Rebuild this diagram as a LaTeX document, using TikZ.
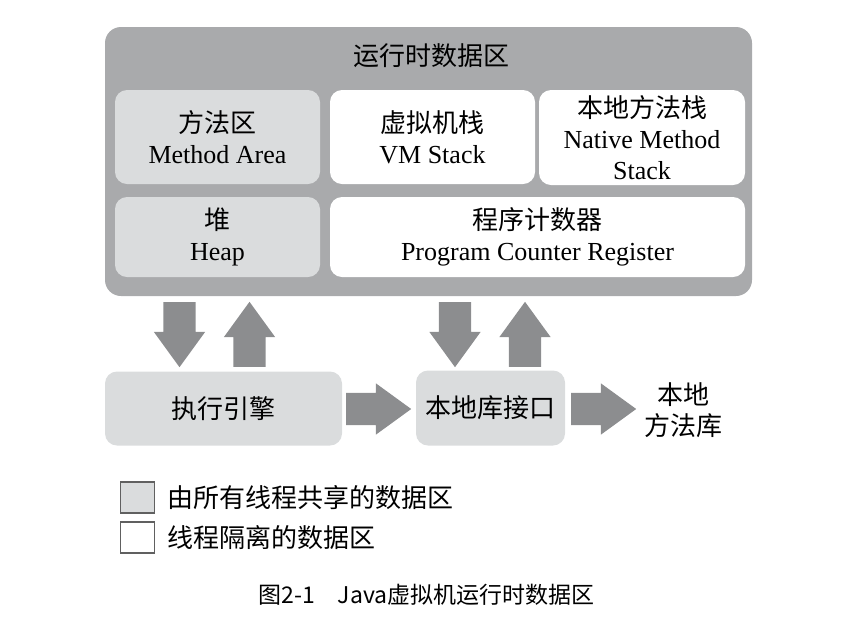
\documentclass[tikz,border=0pt]{standalone}
\usepackage{fontspec}
\setmainfont{Liberation Serif}
\newfontfamily\cjk{Noto Sans CJK SC}
\usetikzlibrary{shapes.arrows,positioning}
\definecolor{AreaGray}{RGB}{169,170,172}
\definecolor{SharedGray}{RGB}{218,220,221}
\definecolor{ArrowGray}{RGB}{140,141,143}
\definecolor{EdgeGray}{RGB}{96,96,96}

\begin{document}
\begin{tikzpicture}[x=1pt, y=-1pt, font=\fontsize{26}{31}\selectfont,
  Area/.style={fill=AreaGray, rounded corners=16pt, minimum width=647pt, minimum height=269pt},
  Shared/.style={fill=SharedGray, align=center, rounded corners=12pt, inner sep=0pt},
  Private/.style={Shared, fill=white},
  BlockArrow/.style={single arrow, fill=ArrowGray, anchor=tail, inner xsep=0pt, inner ysep=16pt, minimum width=51pt, minimum height=65pt, single arrow tip angle=72, single arrow head extend=9.5pt},
  Legend/.style={draw=EdgeGray, line width=1.5pt, minimum width=34pt, minimum height=31pt, inner sep=0pt}]

\useasboundingbox (0,0) rectangle (862,630);

\node [Area] (rtda) at (428.5,161.5) {};
\node (title) at (431,56) {\cjk 运行时数据区};

\node [Shared, minimum width=205pt, minimum height=94pt] (method) at (217.5,137) {{\cjk 方法区}\\Method Area};
\node [Private, minimum width=205pt, minimum height=94pt] (vmstack) at (432.5,137) {{\cjk 虚拟机栈}\\VM Stack};
\node [Private, minimum width=206pt, minimum height=95pt] (native) at (642,137.5) {{\cjk 本地方法栈}\\Native Method\\Stack};
\node [Shared, minimum width=205pt, minimum height=80pt] (heap) at (217.5,237) {{\cjk 堆}\\Heap};
\node [Private, minimum width=415pt, minimum height=80pt] (pc) at (537.5,237) {{\cjk 程序计数器}\\Program Counter Register};

\node [Shared, minimum width=237pt, minimum height=74pt] (engine) at (223.5,408.5) {\cjk 执行引擎};
\node [Shared, minimum width=149pt, minimum height=75pt] (jni) at (490.5,408) {\cjk 本地库接口};
\node [align=center] (libs) at (683,410) {{\cjk 本地}\\{\cjk 方法库}};

\foreach \x/\name in {179.5/engineIn, 455/jniIn}
  \node [BlockArrow, rotate=-90] (\name) at (\x,302) {};
\foreach \x/\name in {249.5/engineOut, 525/jniOut}
  \node [BlockArrow, rotate=90] (\name) at (\x,367) {};
\node [BlockArrow] (toJni) at (346,409) {};
\node [BlockArrow] (toLibs) at (571,409) {};

\node [Legend, fill=SharedGray] (sharedKey) at (137.5,497.5) {};
\node [right=12pt of sharedKey, inner sep=0pt] (sharedText) {\cjk 由所有线程共享的数据区};
\node [Legend, fill=white] (privateKey) at (137.5,537.5) {};
\node [right=12pt of privateKey, inner sep=0pt] (privateText) {\cjk 线程隔离的数据区};

\node (caption) at (426.5,595) {\fontsize{23}{27}\selectfont\cjk 图2-1\hspace{1em}Java虚拟机运行时数据区};
\end{tikzpicture}
\end{document}
